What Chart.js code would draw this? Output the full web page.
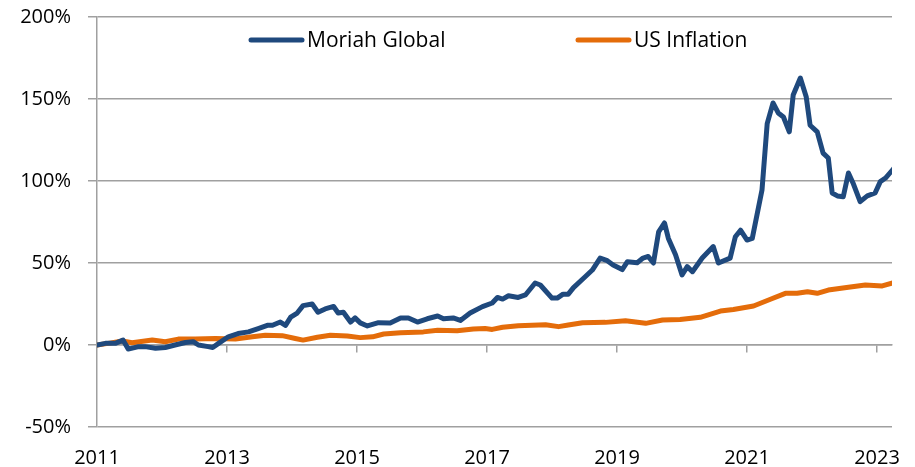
<!DOCTYPE html>
<html>
<head>
<meta charset="utf-8">
<script src="https://cdn.jsdelivr.net/npm/chart.js@4.4.0/dist/chart.umd.min.js"></script>
<style>
  html, body { margin: 0; padding: 0; background: #fff; }
  #wrap { width: 915px; height: 467px; }
</style>
</head>
<body>
<div id="wrap"><canvas id="chart" width="915" height="467"></canvas></div>
<script>
// dates as decimal years, values in %
const moriahDates = [2011.00, 2011.13, 2011.28, 2011.40, 2011.48, 2011.64, 2011.74, 2011.90, 2012.05, 2012.20,
  2012.36, 2012.48, 2012.56, 2012.71, 2012.78, 2012.87, 2013.02, 2013.17, 2013.33, 2013.48,
  2013.62, 2013.70, 2013.82, 2013.90, 2013.98, 2014.08, 2014.17, 2014.31, 2014.40, 2014.51,
  2014.64, 2014.71, 2014.79, 2014.90, 2014.97, 2015.05, 2015.16, 2015.33, 2015.51, 2015.67,
  2015.79, 2015.93, 2016.08, 2016.24, 2016.33, 2016.48, 2016.59, 2016.74, 2016.93, 2017.08,
  2017.16, 2017.24, 2017.33, 2017.48, 2017.59, 2017.74, 2017.82, 2018.00, 2018.08, 2018.17,
  2018.25, 2018.33, 2018.51, 2018.62, 2018.74, 2018.85, 2018.94, 2019.08, 2019.16, 2019.31,
  2019.40, 2019.48, 2019.56, 2019.64, 2019.73, 2019.79, 2019.90, 2020.00, 2020.08, 2020.16,
  2020.31, 2020.48, 2020.56, 2020.74, 2020.82, 2020.90, 2021.00, 2021.08, 2021.23, 2021.31,
  2021.40, 2021.48, 2021.56, 2021.65, 2021.71, 2021.82, 2021.91, 2021.97, 2022.08, 2022.17,
  2022.25, 2022.31, 2022.39, 2022.48, 2022.56, 2022.63, 2022.74, 2022.85, 2022.97, 2023.05,
  2023.13, 2023.25];
const moriahValues = [0, 1, 1, 3, -2.5, -1, -1, -2, -1.5, 0,
  1.5, 2, 0, -1, -1.5, 1, 5, 7, 8, 10,
  12, 12, 14, 12, 17, 19.5, 24, 25, 20, 22,
  23.5, 19.5, 20, 14, 16.5, 13.5, 11.6, 13.6, 13.4, 16.5,
  16.5, 14, 16, 17.7, 16, 16.5, 15, 19.5, 23.4, 25.6,
  29, 28, 30, 29, 30.5, 37.8, 36.6, 28.6, 28.6, 31,
  31, 35, 41.6, 45.7, 53, 51.4, 48.8, 46, 50.8, 50.2,
  53, 54, 50, 69, 74.4, 65, 55, 42.7, 47.8, 44.7,
  53, 60, 50, 53, 66, 70, 64, 65, 94.5, 135,
  147.6, 141.5, 139, 130, 152.4, 162.8, 151.4, 134, 130, 117,
  114, 92.7, 90.9, 90.4, 104.9, 98.8, 87.4, 90.9, 92.7, 99.6,
  101.8, 107.3];

const inflationDates = [2011.00, 2011.17, 2011.39, 2011.54, 2011.85, 2012.05, 2012.25, 2012.51, 2012.82, 2013.13,
  2013.39, 2013.59, 2013.85, 2014.05, 2014.17, 2014.39, 2014.59, 2014.85, 2015.05, 2015.24,
  2015.41, 2015.67, 2016.02, 2016.24, 2016.54, 2016.79, 2016.97, 2017.08, 2017.24, 2017.48,
  2017.90, 2018.10, 2018.25, 2018.47, 2018.82, 2019.13, 2019.44, 2019.70, 2019.97, 2020.28,
  2020.59, 2020.79, 2021.10, 2021.36, 2021.59, 2021.77, 2021.93, 2022.08, 2022.25, 2022.56,
  2022.82, 2023.08, 2023.25];
const inflationValues = [0, 1, 2.4, 1.4, 3, 2, 3.6, 3.6, 4, 3.6,
  5, 6, 5.7, 4, 3, 4.7, 5.9, 5.5, 4.5, 5,
  6.7, 7.5, 8, 9, 8.7, 9.8, 10, 9.5, 10.8, 11.8,
  12.4, 11.2, 12.2, 13.6, 13.8, 14.8, 13.2, 15.2, 15.5, 16.9,
  20.7, 21.7, 23.8, 27.9, 31.5, 31.5, 32.5, 31.5, 33.5, 35.2,
  36.6, 36, 38];

const yearTicks = [2011, 2013, 2015, 2017, 2019, 2021, 2023];
const seriesNames = ["Moriah Global", "US Inflation"];

const blue = "#1f497d";
const orange = "#e46c0a";
const gridGray = "#a0a0a0";
const fontFamily = "'Open Sans', sans-serif";

const toPoints = (xs, ys) => xs.map((x, i) => ({ x: x, y: ys[i] }));

// legend drawn inside the plot area, like the original
const innerLegend = {
    id: "innerLegend",
    afterDraw(chart) {
        const ctx = chart.ctx;
        const area = chart.chartArea;
        const starts = [area.left + 154, area.left + 481];
        const y = area.top + 23;
        ctx.save();
        ctx.font = "21px " + fontFamily;
        ctx.textBaseline = "middle";
        chart.data.datasets.forEach((ds, i) => {
            const x = starts[i];
            ctx.strokeStyle = ds.borderColor;
            ctx.lineWidth = 5;
            ctx.lineCap = "round";
            ctx.beginPath();
            ctx.moveTo(x, y);
            ctx.lineTo(x + 51, y);
            ctx.stroke();
            ctx.fillStyle = "#000";
            ctx.fillText(ds.label, x + 56, y + 1);
        });
        ctx.restore();
    }
};

new Chart(document.getElementById("chart"), {
    type: "line",
    data: {
        datasets: [
            {
                label: seriesNames[0],
                data: toPoints(moriahDates, moriahValues),
                borderColor: blue,
                borderWidth: 5,
                pointRadius: 0,
                tension: 0,
                borderJoinStyle: "round",
                borderCapStyle: "round"
            },
            {
                label: seriesNames[1],
                data: toPoints(inflationDates, inflationValues),
                borderColor: orange,
                borderWidth: 5,
                pointRadius: 0,
                tension: 0,
                borderJoinStyle: "round",
                borderCapStyle: "round"
            }
        ]
    },
    options: {
        responsive: false,
        animation: false,
        layout: { padding: { top: 17, right: 23, left: 0, bottom: 0 } },
        plugins: {
            legend: { display: false },
            tooltip: { enabled: false }
        },
        scales: {
            x: {
                type: "linear",
                position: "bottom",
                min: 2011,
                max: 2023.23,
                afterBuildTicks: s => { s.ticks = yearTicks.map(v => ({ value: v })); },
                afterFit: s => { s.height = 40; s.paddingLeft = 0; s.paddingRight = 0; },
                grid: { display: false, drawTicks: false },
                border: { display: false },
                ticks: {
                    padding: 19,
                    maxRotation: 0,
                    color: "#000",
                    font: { family: fontFamily, size: 20 },
                    callback: v => String(v)
                }
            },
            x2: {
                type: "linear",
                position: { y: 0 },
                axis: "x",
                min: 2011,
                max: 2023.23,
                afterBuildTicks: s => { s.ticks = yearTicks.slice(1).map(v => ({ value: v })); },
                afterFit: s => { s.paddingLeft = 0; s.paddingRight = 0; },
                grid: { drawOnChartArea: false, drawTicks: true, tickLength: 7, color: gridGray, lineWidth: 1.5 },
                border: { display: true, color: gridGray, width: 1.5 },
                ticks: { display: false }
            },
            y: {
                min: -50,
                max: 200,
                afterFit: s => { s.width = 97; s.paddingTop = 0; s.paddingBottom = 0; },
                ticks: {
                    stepSize: 50,
                    padding: 17,
                    color: "#000",
                    font: { family: fontFamily, size: 20 },
                    callback: v => v + "%"
                },
                grid: { color: gridGray, lineWidth: 1.5, tickLength: 9 },
                border: { display: true, color: gridGray, width: 1.5 }
            }
        }
    },
    plugins: [innerLegend]
});
</script>
</body>
</html>
